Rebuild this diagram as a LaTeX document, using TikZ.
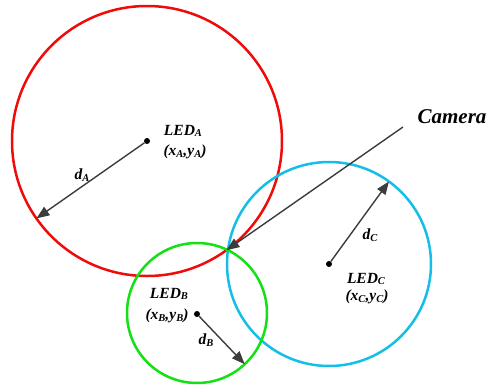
\documentclass[tikz,border=0pt]{standalone}
\usepackage{fontspec}
\setmainfont{Liberation Serif}
\usetikzlibrary{arrows.meta}
\definecolor{ledred}{RGB}{240,10,10}
\definecolor{ledgreen}{RGB}{20,225,20}
\definecolor{ledblue}{RGB}{20,190,230}
\definecolor{arrowgray}{RGB}{60,60,60}
\newcommand\lsub[1]{\raisebox{-0.2ex}{\fontsize{10.5}{11}\selectfont #1}}
\begin{document}
\begin{tikzpicture}[x=1pt,y=-1pt,
  ring/.style={circle,draw,line width=2.5pt,inner sep=0pt,outer sep=0pt},
  centerdot/.style={circle,fill=black,inner sep=0pt,minimum size=6pt},
  radius arrow/.style={draw=arrowgray,line width=1.4pt,-{Triangle[length=13pt,width=10pt]}},
  lbl/.style={font=\fontsize{15.5}{16}\selectfont\bfseries\itshape,inner sep=0pt},
  camlbl/.style={font=\fontsize{21}{22}\selectfont\bfseries\itshape,inner sep=0pt}]
\useasboundingbox (0,0) rectangle (488,389);
\node[ring,draw=ledred,minimum size=270pt] (A) at (147,141) {};
\node[ring,draw=ledblue,minimum size=204pt] (C) at (329,264) {};
\node[ring,draw=ledgreen,minimum size=140pt] (B) at (197,313) {};
\node[centerdot] (a) at (147,141) {};
\node[centerdot] (b) at (197,314) {};
\node[centerdot] (c) at (329,264) {};
\draw[radius arrow] (a) -- (A.215);
\draw[radius arrow] (b) -- (B.-47);
\draw[radius arrow] (c) -- (C.54);
\coordinate (cam) at (403,127);
\draw[radius arrow] (cam) -- (A.-54);
\node[camlbl] (camera) at (452,117) {Camera};
\node[lbl] (ledA) at (183,131) {LED\lsub{A}};
\node[lbl] (posA) at (185,152) {(x\lsub{A},y\lsub{A})};
\node[lbl] (dA) at (82,175) {d\lsub{A}};
\node[lbl] (ledB) at (169,294) {LED\lsub{B}};
\node[lbl] (posB) at (167,316) {(x\lsub{B},y\lsub{B})};
\node[lbl] (dB) at (206,340) {d\lsub{B}};
\node[lbl] (ledC) at (366,279) {LED\lsub{C}};
\node[lbl] (posC) at (367,297) {(x\lsub{C},y\lsub{C})};
\node[lbl] (dC) at (370,235) {d\lsub{C}};
\end{tikzpicture}
\end{document}
